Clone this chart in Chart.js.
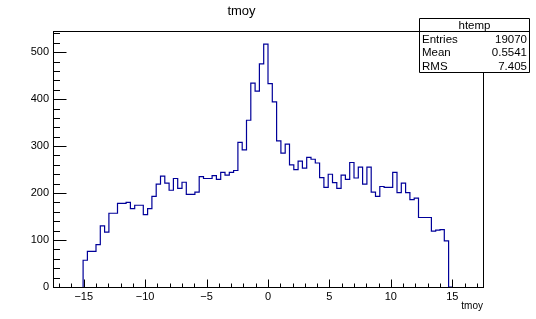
<!DOCTYPE html>
<html><head><meta charset="utf-8">
<script src="https://cdn.jsdelivr.net/npm/chart.js@4.4.0/dist/chart.umd.min.js"></script>
<style>html,body{margin:0;padding:0;background:#fff;overflow:hidden}</style>
</head><body>
<canvas id="c" width="536" height="319"></canvas>
<script>
// ---- data ----
const histTitle = 'tmoy';
const histName = 'htemp';
const axisTitle = 'tmoy';
const axisMin = -17.5;
const axisMax = 17.5;
const binWidth = 0.35;
const firstBinLowEdge = -15.05;
const counts = [46,57,76,76,90,130,117,157,157,178,178,180,167,174,174,154,167,193,219,236,
  221,206,231,210,223,197,197,202,235,231,231,237,229,244,238,244,248,308,292,
  355,434,417,475,517,433,394,311,285,304,260,250,
  268,253,276,272,264,233,212,240,222,210,238,229,265,232,255,219,255,202,193,
  214,212,212,244,201,221,201,186,189,148,148,148,119,121,122,98];
const yMin = 0;
const yMax = 545;
const xMajorTicks = [-15,-10,-5,0,5,10,15];
const yMajorTicks = [0,100,200,300,400,500];
const xMinorStep = 1;
const yMinorStep = 20;
const statsLabels = ['Entries','Mean','RMS'];
const statsValues = ['19070','0.5541','7.405'];

// ---- build ----
const FONT = "'Liberation Sans', Arial, Helvetica, sans-serif";
const points = [{x: firstBinLowEdge, y: 0}];
counts.forEach((c, i) => points.push({x: firstBinLowEdge + i * binWidth, y: c}));
points.push({x: firstBinLowEdge + counts.length * binWidth, y: 0});

const fmt = v => (v < 0 ? '\u2212' + Math.abs(v) : String(v));

const rootDecor = {
  id: 'rootDecor',
  afterDatasetsDraw(chart) {
    const {ctx, chartArea: a, scales: {x, y}} = chart;
    ctx.save();
    ctx.strokeStyle = '#000';
    ctx.lineWidth = 1;
    ctx.beginPath();
    const L = Math.round(a.left) + 0.5, R = Math.round(a.right) + 0.5;
    const T = Math.round(a.top) + 0.5, B = Math.round(a.bottom) + 0.5;
    ctx.moveTo(L, T); ctx.lineTo(R, T); ctx.lineTo(R, B); ctx.lineTo(L, B); ctx.closePath();
    const xStart = Math.ceil(axisMin / xMinorStep) * xMinorStep;
    for (let v = xStart; v <= axisMax; v += xMinorStep) {
      const px = Math.round(x.getPixelForValue(v)) + 0.5;
      const len = xMajorTicks.includes(v) ? 8 : 4;
      ctx.moveTo(px, B); ctx.lineTo(px, B - len);
    }
    for (let v = yMin; v <= yMax; v += yMinorStep) {
      const py = Math.round(y.getPixelForValue(v)) + 0.5;
      const len = yMajorTicks.includes(v) ? 13 : 6.5;
      ctx.moveTo(L, py); ctx.lineTo(L + len, py);
    }
    ctx.stroke();

    // stats box
    const bx = 419.5, by = 18.5, bw = 110, bh = 54, hh = 13;
    ctx.fillStyle = '#fff';
    ctx.fillRect(bx, by, bw, bh);
    ctx.beginPath();
    ctx.rect(bx, by, bw, bh);
    ctx.moveTo(bx, by + hh); ctx.lineTo(bx + bw, by + hh);
    ctx.stroke();
    ctx.fillStyle = '#000';
    ctx.font = '11.5px ' + FONT;
    ctx.textBaseline = 'middle';
    ctx.textAlign = 'center';
    ctx.fillText(histName, bx + bw / 2, by + hh / 2 + 0.5);
    const rowH = (bh - hh) / statsLabels.length;
    statsLabels.forEach((lab, i) => {
      const cy = by + hh + rowH * (i + 0.5) + 1;
      ctx.textAlign = 'left';
      ctx.fillText(lab, bx + 2.5, cy);
      ctx.textAlign = 'right';
      ctx.fillText(statsValues[i], bx + bw - 2.5, cy);
    });
    ctx.restore();
  }
};

new Chart(document.getElementById('c'), {
  type: 'line',
  data: {
    datasets: [{
      data: points,
      stepped: 'after',
      borderColor: '#000099',
      borderWidth: 1.2,
      pointRadius: 0,
      fill: false,
      tension: 0
    }]
  },
  options: {
    responsive: false,
    animation: false,
    devicePixelRatio: 1,
    layout: {padding: {left: 0, right: 53, top: 0, bottom: 0}},
    plugins: {
      legend: {display: false},
      tooltip: {enabled: false},
      title: {
        display: true, text: histTitle, color: '#000',
        font: {family: FONT, size: 13, weight: 'normal'},
        padding: {top: 4, bottom: 11.4}
      }
    },
    scales: {
      x: {
        type: 'linear', position: 'bottom', min: axisMin, max: axisMax,
        afterFit(s) { s.height = 32; },
        afterBuildTicks(s) { s.ticks = xMajorTicks.map(v => ({value: v})); },
        ticks: {
          color: '#000', font: {family: FONT, size: 11}, padding: 3,
          maxRotation: 0, autoSkip: false, callback: v => fmt(v)
        },
        grid: {display: false, drawTicks: false},
        border: {display: true, color: '#000'},
        title: {
          display: true, text: axisTitle, align: 'end', color: '#000',
          font: {family: FONT, size: 10}, padding: {top: 0, bottom: 7}
        }
      },
      y: {
        type: 'linear', min: yMin, max: yMax,
        afterFit(s) { s.width = 53; },
        afterBuildTicks(s) { s.ticks = yMajorTicks.map(v => ({value: v})); },
        ticks: {color: '#000', font: {family: FONT, size: 11}, padding: 4, callback: v => fmt(v)},
        grid: {display: false, drawTicks: false},
        border: {display: true, color: '#000'}
      }
    }
  },
  plugins: [rootDecor]
});
</script>
</body></html>
